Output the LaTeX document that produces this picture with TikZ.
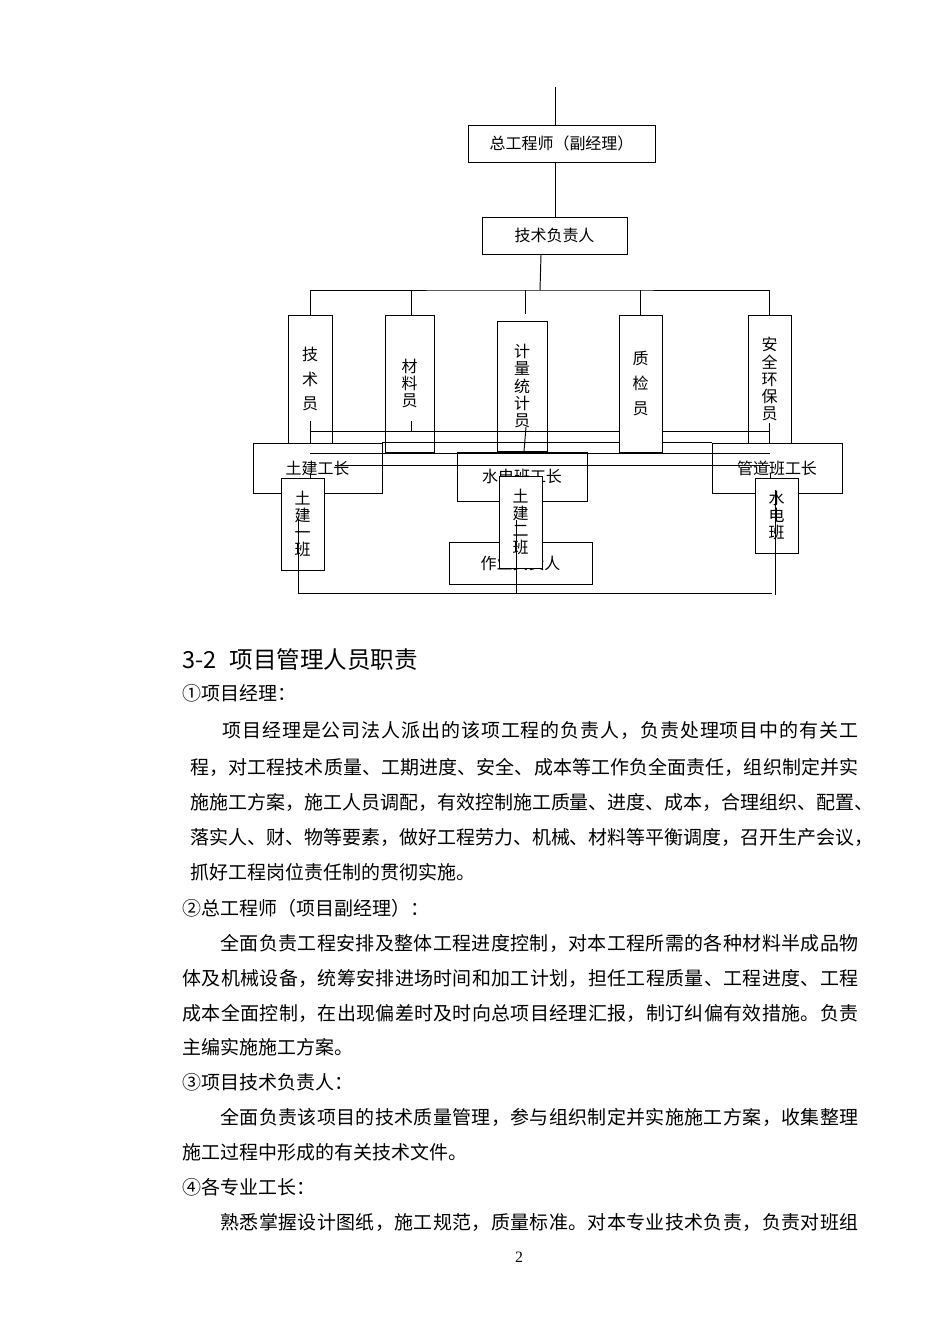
\documentclass[tikz,border=0pt]{standalone}
\usepackage{fontspec}
\usepackage{tikz}
\newfontfamily\cjk{Noto Sans CJK SC}
\newfontfamily\tnr{Liberation Serif}
\newcommand\spreadline[2]{\hbox to #1{\sprfirst#2\relax}}
\def\sprfirst#1{#1\sprnext}
\def\sprnext#1{\ifx#1\relax\else\hfill#1\expandafter\sprnext\fi}
\tikzset{
	box/.style={draw, fill=white, inner sep=0pt, align=center, font=\cjk\fontsize{9.1}{9.7}\selectfont},
	widebox/.style={box, font=\cjk\fontsize{9.1}{14.2}\selectfont},
	txt/.style={anchor=west, inner sep=0pt, font=\cjk\fontsize{10.8}{13}\selectfont},
}

\begin{document}
\begin{tikzpicture}[x=0.02cm, y=-0.02cm, line width=0.55pt]
	\useasboundingbox (0,0) rectangle (950,1344);
	% chart head
	\coordinate (top) at (555,87);
	\node[box, minimum width=3.74cm, minimum height=0.74cm] (zgcs) at (561.5,143.5) {总工程师（副经理）};
	\node[box, minimum width=2.9cm, minimum height=0.74cm] (jsfzr) at (554.5,235.5) {技术负责人};
	\draw (top) -- (top |- zgcs.north);
	\draw (top |- zgcs.south) -- (top |- jsfzr.north);
	% staff
	\node[widebox, minimum width=0.88cm, minimum height=2.56cm] (jsy) at (310,379) {技\\术\\员};
	\node[box, minimum width=0.98cm, minimum height=2.74cm] (cly) at (409.5,383.5) {材\\料\\员};
	\node[box, minimum width=1cm, minimum height=2.6cm] (jltjy) at (522,386) {计\\量\\统\\计\\员};
	\node[box, minimum width=0.86cm, minimum height=2.56cm] (aqhby) at (769.5,379) {安\\全\\环\\保\\员};
	\coordinate (bus) at (540,290);
	\draw ([xshift=-0.27cm]jsfzr.south) -- (bus);
	\draw (jsy.north) |- (bus) -| (aqhby.north);
	\draw ([xshift=0.03cm]cly.north) -- ([xshift=0.03cm]cly.north |- bus);
	\draw ([xshift=0.06cm]jltjy.north |- bus) -- ++(0,24);
	% foremen
	\node[box, minimum width=2.58cm, minimum height=1cm] (tjgz) at (317.5,468) {土建工长};
	\node[box, minimum width=2.86cm, minimum height=0.84cm] (zyfzr) at (520.5,563) {作业负责人};
	\node[box, minimum width=2.6cm, minimum height=0.98cm] (sdgz) at (522,476.5) {水电班工长};
	\node[box, minimum width=2.6cm, minimum height=1cm] (gdgz) at (777,468) {管道班工长};
	% cross lines
	\draw (jsy.south) -- ++(0,-22);
	\draw (411,421) -- (411,432);
	\draw (526,427) -- (524,451);
	\draw (aqhby.south) -- ++(0,-20);
	\draw (310,431) -- (770,431);
	\draw (tjgz.north east) -- (gdgz.north west);
	\draw (310,453) -- (770,453);
	\draw (335,465) -- (770,465);
	\draw (310,473) -- (310,478);
	\draw (770,473) -- (770,478);
	\node[widebox, minimum width=0.86cm, minimum height=2.74cm] (zjy) at (640.5,383.5) {质\\检\\员};
	\draw (zjy.north) -- (zjy.north |- bus);
	% crews
	\node[box, minimum width=0.86cm, minimum height=1.84cm] (tj1) at (302.5,524) {土\\建\\一\\班};
	\node[box, minimum width=0.86cm, minimum height=1.84cm] (tj2) at (520.5,522) {土\\建\\二\\班};
	\node[box, minimum width=0.86cm, minimum height=1.5cm] (sdb) at (776.5,515.5) {水\\电\\班};
	\coordinate (bot) at (298,593);
	\draw (298,520) -- (bot) -- (772,593);
	\draw (516,520) -- (516,593);
	\draw (775,490) -- (775,595);
	% text
	\node[txt, font=\cjk\fontsize{13.4}{16}\selectfont] (h32) at (182,660) {\makebox[2em][l]{3-2}项目管理人员职责};
	\node[txt] (jl0) at (182,693) {①项目经理：};
	\node[txt] (jl1) at (222,730) {\spreadline{12.72cm}{项目经理是公司法人派出的该项工程的负责人，负责处理项目中的有关工}};
	\node[txt] (jl2) at (190,767) {\spreadline{13.36cm}{程，对工程技术质量、工期进度、安全、成本等工作负全面责任，组织制定并实}};
	\node[txt] (jl3) at (190,802) {\spreadline{13.36cm}{施施工方案，施工人员调配，有效控制施工质量、进度、成本，合理组织、配置、}};
	\node[txt] (jl4) at (190,837) {\spreadline{13.36cm}{落实人、财、物等要素，做好工程劳力、机械、材料等平衡调度，召开生产会议，}};
	\node[txt] (jl5) at (190,872) {抓好工程岗位责任制的贯彻实施。};
	\node[txt] (zg0) at (182,908) {②总工程师（项目副经理）：};
	\node[txt] (zg1) at (220,943) {\spreadline{12.76cm}{全面负责工程安排及整体工程进度控制，对本工程所需的各种材料半成品物}};
	\node[txt] (zg2) at (182,978) {\spreadline{13.52cm}{体及机械设备，统筹安排进场时间和加工计划，担任工程质量、工程进度、工程}};
	\node[txt] (zg3) at (182,1013) {\spreadline{13.52cm}{成本全面控制，在出现偏差时及时向总项目经理汇报，制订纠偏有效措施。负责}};
	\node[txt] (zg4) at (182,1047) {主编实施施工方案。};
	\node[txt] (js0) at (182,1082) {③项目技术负责人：};
	\node[txt] (js1) at (220,1117) {\spreadline{12.76cm}{全面负责该项目的技术质量管理，参与组织制定并实施施工方案，收集整理}};
	\node[txt] (js2) at (182,1152) {施工过程中形成的有关技术文件。};
	\node[txt] (gz0) at (182,1187) {④各专业工长：};
	\node[txt] (gz1) at (220,1222) {\spreadline{12.76cm}{熟悉掌握设计图纸，施工规范，质量标准。对本专业技术负责，负责对班组}};
	\node[inner sep=0pt, font=\tnr\fontsize{9}{10}\selectfont] (pno) at (519,1257) {2};
\end{tikzpicture}
\end{document}
